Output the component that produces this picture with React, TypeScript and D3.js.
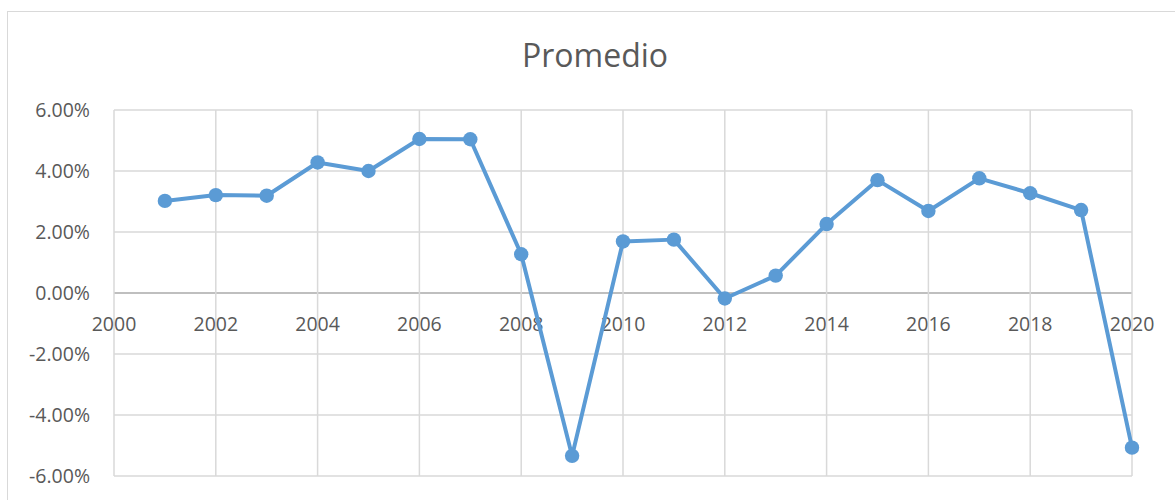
import React from "react";
import * as d3 from "d3";

const years = [2001, 2002, 2003, 2004, 2005, 2006, 2007, 2008, 2009, 2010, 2011, 2012, 2013, 2014, 2015, 2016, 2017, 2018, 2019, 2020];
const promedio = [3.02, 3.21, 3.19, 4.28, 4.0, 5.05, 5.04, 1.27, -5.34, 1.69, 1.75, -0.18, 0.57, 2.26, 3.7, 2.69, 3.76, 3.27, 2.72, -5.07];
const xTicks = [2000, 2002, 2004, 2006, 2008, 2010, 2012, 2014, 2016, 2018, 2020];
const yTicks = [-6, -4, -2, 0, 2, 4, 6];
const title = "Promedio";

const W = 1175;
const H = 500;
const plot = { left: 114, right: 1132, top: 110, bottom: 476 };
const FONT = "'Open Sans', 'Noto Sans', sans-serif";
const TEXT = "#595959";
const GRID = "#d9d9d9";
const LINE = "#5b9bd5";

const fmtPct = (t: number) => d3.format(".2f")(t).replace("\u2212", "-") + "%";

export default function App() {
  const x = d3.scaleLinear().domain([2000, 2020]).range([plot.left, plot.right]);
  const y = d3.scaleLinear().domain([-6, 6]).range([plot.bottom, plot.top]);
  const data = years.map((yr, i) => ({ yr, v: promedio[i] }));
  const line = d3
    .line<{ yr: number; v: number }>()
    .x((d) => x(d.yr))
    .y((d) => y(d.v));

  return (
    <svg
      width={W}
      height={H}
      style={{ position: "fixed", left: 0, top: 0, background: "#fff" }}
      fontFamily={FONT}
    >
      <rect x={0} y={0} width={W} height={H} fill="#fff" />
      <rect x={7.5} y={11.5} width={1176} height={520} fill="none" stroke={GRID} strokeWidth={1} />
      <text x={595} y={67} textAnchor="middle" fontSize={32} fill={TEXT}>
        {title}
      </text>
      {yTicks.map((t) => (
        <g key={"y" + t}>
          <line
            x1={plot.left}
            x2={plot.right}
            y1={y(t)}
            y2={y(t)}
            stroke={t === 0 ? "#bfbfbf" : GRID}
            strokeWidth={t === 0 ? 1.8 : 1.5}
          />
          <text
            x={90}
            y={y(t)}
            dy="0.35em"
            textAnchor="end"
            fontSize={19.5}
            fill={TEXT}
          >
            {fmtPct(t)}
          </text>
        </g>
      ))}
      {xTicks.map((t) => (
        <g key={"x" + t}>
          <line
            x1={x(t)}
            x2={x(t)}
            y1={plot.top}
            y2={plot.bottom}
            stroke={GRID}
            strokeWidth={1.5}
          />
          <text x={x(t)} y={331} textAnchor="middle" fontSize={19.5} fill={TEXT}>
            {t}
          </text>
        </g>
      ))}
      <path d={line(data) || ""} fill="none" stroke={LINE} strokeWidth={4} strokeLinejoin="round" />
      {data.map((d) => (
        <circle key={d.yr} cx={x(d.yr)} cy={y(d.v)} r={7.2} fill={LINE} />
      ))}
    </svg>
  );
}
